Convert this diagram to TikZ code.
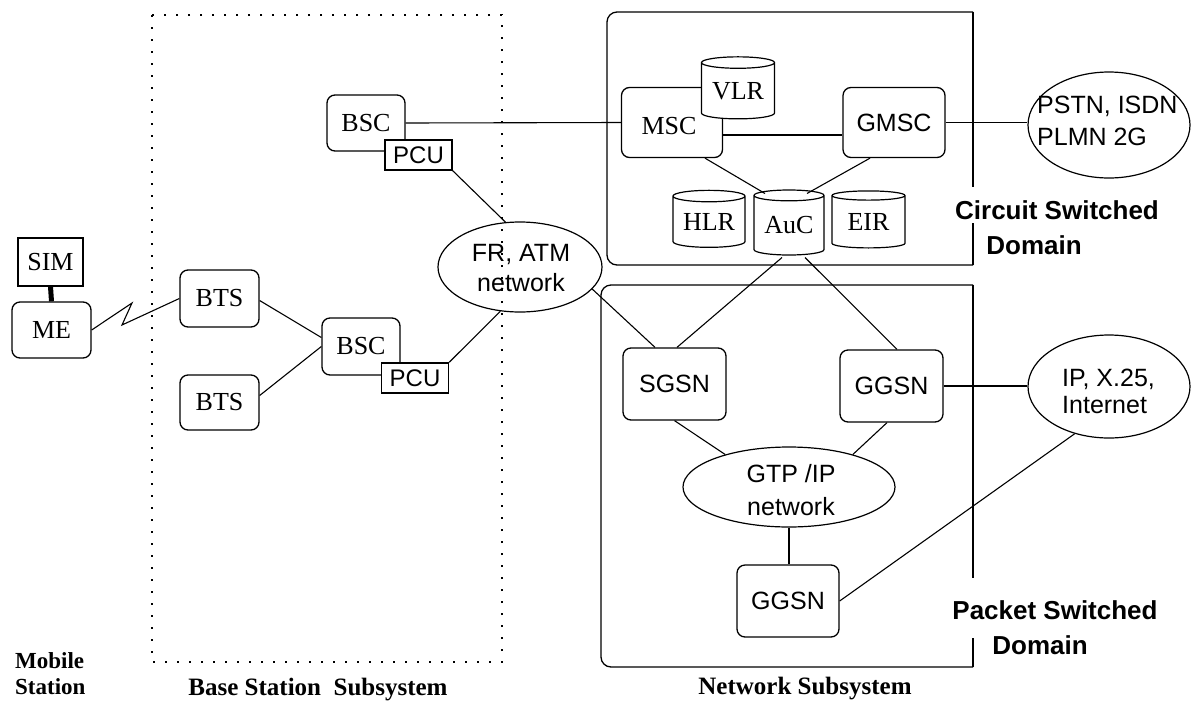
\documentclass[tikz,border=0pt]{standalone}
\usepackage{fontspec}
\setmainfont{Liberation Serif}
\newfontfamily\sansfam{Liberation Sans}
\usetikzlibrary{shapes.geometric,calc}
\begin{document}
\begin{tikzpicture}[x=1pt,y=-1pt,
  every node/.style={inner sep=0pt},
  rbox/.style={draw, rounded corners=8pt, line width=1.3pt, fill=white, font=\fontsize{26}{30}\selectfont},
  rboxs/.style={rbox, font=\sansfam\fontsize{25}{30}\selectfont},
  sqbox/.style={draw, line width=1.5pt, fill=white, font=\sansfam\fontsize{24}{28}\selectfont},
  db/.style={cylinder, shape border rotate=90, aspect=0.22, draw, fill=white, line width=1.2pt, font=\fontsize{26}{30}\selectfont},
  ell/.style={ellipse, draw, line width=1.2pt},
  ltxt/.style={font=\sansfam\fontsize{25}{30}\selectfont, align=center},
  conn/.style={line width=1.1pt},
  frame/.style={line width=1.3pt, line cap=square},
  dlab/.style={font=\sansfam\bfseries\fontsize{26}{32}\selectfont},
  slab/.style={font=\bfseries\fontsize{25}{30}\selectfont}
]
\fill[white] (0,0) rectangle (1191,702);
\useasboundingbox (0,0) rectangle (1191,702);

% frames
\draw[line width=2.2pt, dash pattern=on 2pt off 10pt] (152,15) rectangle (502,662);
\draw[frame, rounded corners=10pt] (973,12) -- (607,12) -- (607,265) -- (973,265);
\draw[frame] (973,12) -- (973,187);
\draw[frame] (973,223) -- (973,265);
\draw[frame, rounded corners=10pt] (973,285) -- (601,285) -- (601,667) -- (973,667);
\draw[frame] (973,285) -- (973,578);
\draw[frame] (973,638) -- (973,667);

% mobile station
\node[draw, line width=1.3pt, fill=white, minimum width=65pt, minimum height=48pt, font=\fontsize{26}{30}\selectfont] (sim) at (50.5,262) {SIM};
\node[rbox, minimum width=79pt, minimum height=56pt] (me) at (51.5,330) {ME};

% BSS
\node[rbox, minimum width=79pt, minimum height=57pt] (bts1) at (219.5,298.5) {BTS};
\node[rbox, minimum width=79pt, minimum height=55pt] (bts2) at (219.5,402.5) {BTS};
\node[rbox, minimum width=78pt, minimum height=56pt] (bsc1) at (366,123) {BSC};
\node[sqbox, minimum width=67pt, minimum height=30pt] (pcu1) at (418.5,155) {PCU};
\node[rbox, minimum width=78pt, minimum height=57pt] (bsc2) at (361,346.5) {BSC};
\node[sqbox, minimum width=67pt, minimum height=30pt] (pcu2) at (415,378) {PCU};
\node[ell, minimum width=164pt, minimum height=90pt] (fr) at (520,267) {};
\node[ltxt] (frt) at (521,268) {FR, ATM\\network};

% circuit switched
\node[rbox, minimum width=101pt, minimum height=70pt] (msc) at (672,122.5) {};
\node[font=\fontsize{26}{30}\selectfont] (msct) at (669,126) {MSC};
\node[db, minimum width=73pt, minimum height=62pt] (vlr) at (738,91) {VLR};
\node[rboxs, minimum width=102pt, minimum height=70pt] (gmsc) at (894,122.5) {GMSC};
\node[db, minimum width=72pt, minimum height=57pt] (hlr) at (709,222) {HLR};
\node[db, minimum width=70pt, minimum height=65pt] (auc) at (789,225.5) {AuC};
\node[db, minimum width=73pt, minimum height=57pt] (eir) at (868.5,222) {EIR};
\node[ell, minimum width=162pt, minimum height=106pt] (pstn) at (1109,125) {};
\node[ltxt, align=left, anchor=west, font=\sansfam\fontsize{25}{32}\selectfont] (pstnt) at (1037,121) {PSTN, ISDN\\PLMN 2G};

% packet switched
\node[rboxs, minimum width=103pt, minimum height=72pt] (sgsn) at (674.5,384) {SGSN};
\node[rboxs, minimum width=103pt, minimum height=72pt] (ggsn1) at (891.5,386) {GGSN};
\node[ell, minimum width=212pt, minimum height=80pt] (gtp) at (789,487) {};
\node[ltxt, font=\sansfam\fontsize{25}{33}\selectfont] (gtpt) at (791,490) {GTP /IP\\network};
\node[rboxs, minimum width=102pt, minimum height=72pt] (ggsn2) at (788,601) {GGSN};
\node[ell, minimum width=162pt, minimum height=103pt] (ip) at (1109,386.5) {};
\node[ltxt, align=left, anchor=west, font=\sansfam\fontsize{25}{27}\selectfont] (ipt) at (1062,391) {IP, X.25,\\Internet};

% connectors
\draw[line width=5pt] (sim.south) -- (me.north);
\coordinate (z1) at (132,303);
\coordinate (z2) at (122,325);
\draw[conn] (me.east) -- (z1) -- (z2) -- (bts1.west);
\draw[conn] ([yshift=-2pt]bts1.east) -- ([yshift=9pt]bsc2.west);
\draw[conn] ([yshift=7pt]bts2.east) -- (bsc2.west);
\draw[conn] (pcu1.south east) -- (fr.108);
\draw[conn] (pcu2.north east) -- (fr.246);
\draw[conn] (bsc1.east) -- (msc.west);
\draw[conn] ([yshift=-12.5pt]msc.east) -- ([yshift=-12.5pt]gmsc.west);
\draw[conn] (gmsc.east) -- (gmsc.east -| pstn.west);
\draw[conn] ([xshift=33pt]msc.south) -- ([shift={(-24,-32)}]auc.center);
\draw[conn] ([xshift=-24pt]gmsc.south) -- ([shift={(18,-32)}]auc.center);
\draw[conn] ([shift={(-7,32)}]auc.center) -- ([xshift=2.5pt]sgsn.north);
\draw[conn] ([shift={(16,32)}]auc.center) -- ([xshift=5.5pt]ggsn1.north);
\draw[conn] (fr.343) -- ([xshift=-19.5pt]sgsn.north);
\draw[conn] (sgsn.south) -- (gtp.153);
\draw[conn] ([xshift=-4.5pt]ggsn1.south) -- (gtp.27);
\draw[conn] (gtp.south) -- (gtp.south |- ggsn2.north);
\draw[conn] (ggsn1.east) -- (ggsn1.east -| ip.west);
\draw[conn] (ggsn2.east) -- (ip.234);

% labels
\node[slab, align=left, anchor=west, font=\bfseries\fontsize{23}{26}\selectfont] (ms) at (15,674) {Mobile\\Station};
\node[slab] (bss) at (318,690) {Base Station\ \ Subsystem};
\node[slab] (ns) at (805,689) {Network Subsystem};
\node[dlab] (csd1) at (1057,210) {Circuit Switched};
\node[dlab] (csd2) at (1034,245) {Domain};
\node[dlab] (psd1) at (1055,610) {Packet Switched};
\node[dlab] (psd2) at (1040,645) {Domain};
\end{tikzpicture}
\end{document}
